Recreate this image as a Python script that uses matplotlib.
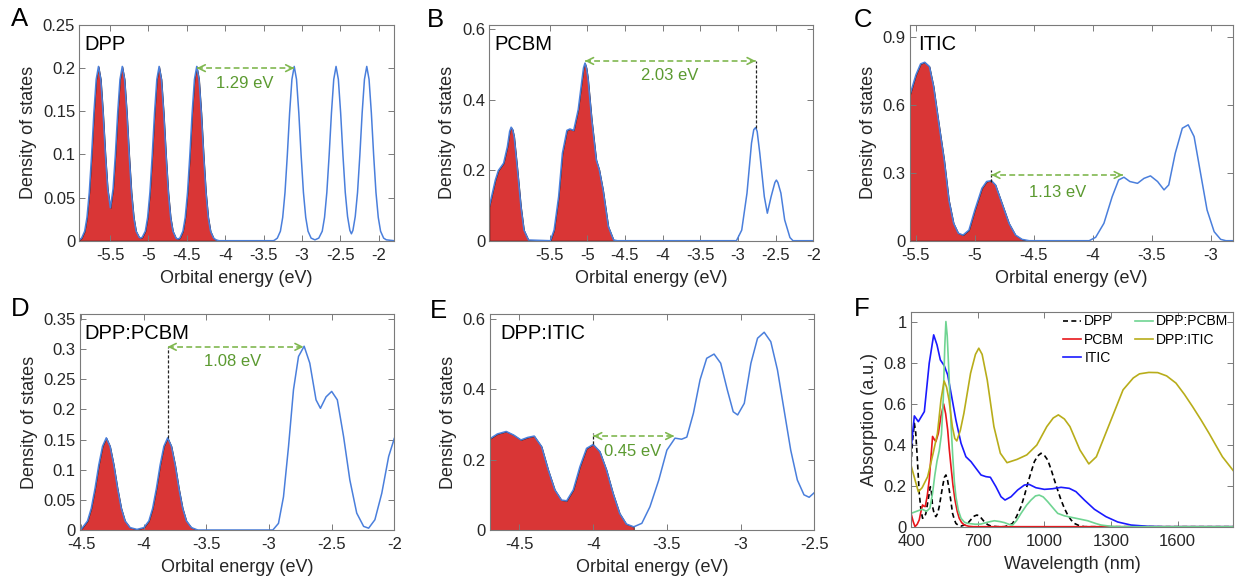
import numpy as np
import matplotlib
matplotlib.use('Agg')
import matplotlib.pyplot as plt
from matplotlib.ticker import FuncFormatter

plt.rcParams['font.family'] = ['Liberation Sans', 'DejaVu Sans']
plt.rcParams['axes.unicode_minus'] = False

# ---- DOS curves: (energy eV, density) ----
dpp_dos = [(-5.90, 0.001), (-5.87, 0.003), (-5.83, 0.011), (-5.80, 0.027), (-5.77, 0.056), (-5.74, 0.099),
           (-5.71, 0.148), (-5.68, 0.187), (-5.65, 0.202), (-5.62, 0.187), (-5.59, 0.148), (-5.56, 0.100),
           (-5.53, 0.060), (-5.495, 0.038), (-5.46, 0.060), (-5.43, 0.100), (-5.40, 0.148), (-5.37, 0.187),
           (-5.34, 0.202), (-5.31, 0.187), (-5.28, 0.148), (-5.25, 0.099), (-5.22, 0.056), (-5.19, 0.027),
           (-5.16, 0.011), (-5.12, 0.004), (-5.10, 0.003), (-5.08, 0.004), (-5.04, 0.011), (-5.01, 0.027),
           (-4.98, 0.056), (-4.95, 0.099), (-4.92, 0.148), (-4.89, 0.187), (-4.86, 0.202), (-4.83, 0.187),
           (-4.80, 0.148), (-4.77, 0.099), (-4.74, 0.056), (-4.71, 0.027), (-4.68, 0.011), (-4.64, 0.003),
           (-4.615, 0.002), (-4.59, 0.003), (-4.55, 0.011), (-4.52, 0.027), (-4.49, 0.056), (-4.46, 0.099),
           (-4.43, 0.148), (-4.40, 0.187), (-4.37, 0.202), (-4.34, 0.187), (-4.31, 0.148), (-4.28, 0.099),
           (-4.25, 0.056), (-4.22, 0.027), (-4.19, 0.011), (-4.15, 0.003), (-4.12, 0.001), (-4.08, 0.000),
           (-3.37, 0.000), (-3.35, 0.001), (-3.32, 0.003), (-3.28, 0.011), (-3.25, 0.027), (-3.22, 0.056),
           (-3.19, 0.099), (-3.16, 0.148), (-3.13, 0.187), (-3.10, 0.202), (-3.07, 0.187), (-3.04, 0.148),
           (-3.01, 0.099), (-2.98, 0.056), (-2.95, 0.027), (-2.92, 0.011), (-2.88, 0.003), (-2.83, 0.001),
           (-2.78, 0.003), (-2.735, 0.011), (-2.705, 0.027), (-2.675, 0.056), (-2.645, 0.099), (-2.615, 0.148),
           (-2.585, 0.187), (-2.555, 0.202), (-2.525, 0.187), (-2.495, 0.148), (-2.465, 0.099), (-2.435, 0.056),
           (-2.405, 0.028), (-2.375, 0.012), (-2.355, 0.008), (-2.335, 0.012), (-2.305, 0.028), (-2.275, 0.056),
           (-2.245, 0.099), (-2.215, 0.148), (-2.185, 0.187), (-2.155, 0.202), (-2.125, 0.187), (-2.095, 0.148),
           (-2.065, 0.099), (-2.035, 0.056), (-2.005, 0.027), (-1.975, 0.011), (-1.935, 0.003), (-1.90, 0.001),
           (-1.80, 0.000)]

pcbm_dos = [(-6.30, 0.097), (-6.27, 0.125), (-6.22, 0.172), (-6.18, 0.199), (-6.11, 0.220), (-6.06, 0.267),
            (-6.03, 0.310), (-6.01, 0.322), (-5.99, 0.315), (-5.97, 0.295), (-5.93, 0.210), (-5.88, 0.097),
            (-5.84, 0.030), (-5.78, 0.002), (-5.49, 0.000), (-5.44, 0.030), (-5.38, 0.125), (-5.33, 0.248),
            (-5.27, 0.313), (-5.23, 0.317), (-5.18, 0.313), (-5.12, 0.372), (-5.07, 0.457), (-5.05, 0.490),
            (-5.03, 0.504), (-5.01, 0.490), (-4.99, 0.460), (-4.94, 0.343), (-4.88, 0.229), (-4.84, 0.201),
            (-4.79, 0.144), (-4.72, 0.040), (-4.65, 0.002), (-4.60, 0.000), (-3.02, 0.000), (-2.95, 0.030),
            (-2.88, 0.135), (-2.82, 0.277), (-2.79, 0.315), (-2.765, 0.321), (-2.745, 0.310), (-2.71, 0.248),
            (-2.65, 0.125), (-2.61, 0.078), (-2.56, 0.125), (-2.51, 0.165), (-2.49, 0.172), (-2.47, 0.165),
            (-2.43, 0.135), (-2.38, 0.059), (-2.31, 0.009), (-2.27, 0.000), (-2.00, 0.000)]

itic_dos = [(-5.555, 0.638), (-5.50, 0.734), (-5.46, 0.783), (-5.425, 0.790), (-5.385, 0.771), (-5.35, 0.683),
            (-5.31, 0.535), (-5.26, 0.358), (-5.22, 0.180), (-5.18, 0.077), (-5.14, 0.033), (-5.10, 0.025),
            (-5.05, 0.047), (-5.00, 0.136), (-4.94, 0.232), (-4.90, 0.262), (-4.86, 0.266), (-4.825, 0.247),
            (-4.77, 0.166), (-4.71, 0.077), (-4.655, 0.025), (-4.60, 0.006), (-4.54, 0.000), (-4.03, 0.000),
            (-3.975, 0.015), (-3.905, 0.077), (-3.835, 0.195), (-3.78, 0.269), (-3.735, 0.281), (-3.685, 0.262),
            (-3.62, 0.254), (-3.565, 0.276), (-3.51, 0.287), (-3.45, 0.262), (-3.395, 0.225), (-3.355, 0.247),
            (-3.30, 0.387), (-3.24, 0.498), (-3.19, 0.513), (-3.14, 0.461), (-3.085, 0.298), (-3.03, 0.136),
            (-2.97, 0.040), (-2.915, 0.006), (-2.87, 0.000), (-2.80, 0.000)]

dpp_pcbm_dos = [(-4.51, 0.000), (-4.49, 0.004), (-4.45, 0.015), (-4.42, 0.036), (-4.39, 0.069), (-4.36, 0.108),
                (-4.33, 0.139), (-4.30, 0.153), (-4.27, 0.139), (-4.24, 0.108), (-4.21, 0.069), (-4.18, 0.036),
                (-4.15, 0.015), (-4.11, 0.004), (-4.055, 0.001), (-4.00, 0.004), (-3.96, 0.015), (-3.93, 0.036),
                (-3.90, 0.069), (-3.87, 0.108), (-3.84, 0.139), (-3.81, 0.153), (-3.78, 0.139), (-3.75, 0.108),
                (-3.72, 0.069), (-3.69, 0.036), (-3.66, 0.015), (-3.62, 0.004), (-3.57, 0.000), (-2.97, 0.000),
                (-2.925, 0.011), (-2.885, 0.055), (-2.845, 0.138), (-2.805, 0.233), (-2.765, 0.288), (-2.72, 0.305),
                (-2.675, 0.277), (-2.625, 0.216), (-2.59, 0.202), (-2.545, 0.221), (-2.50, 0.230), (-2.455, 0.216),
                (-2.405, 0.155), (-2.355, 0.083), (-2.30, 0.028), (-2.245, 0.006), (-2.205, 0.003), (-2.155, 0.017),
                (-2.10, 0.061), (-2.045, 0.122), (-2.00, 0.152)]

dpp_itic_dos = [(-4.705, 0.258), (-4.65, 0.273), (-4.59, 0.280), (-4.54, 0.270), (-4.49, 0.256), (-4.445, 0.263),
                (-4.40, 0.267), (-4.35, 0.237), (-4.305, 0.171), (-4.26, 0.114), (-4.215, 0.085), (-4.18, 0.083),
                (-4.135, 0.114), (-4.09, 0.180), (-4.045, 0.232), (-4.00, 0.243), (-3.955, 0.223), (-3.91, 0.171),
                (-3.865, 0.104), (-3.82, 0.047), (-3.775, 0.017), (-3.725, 0.009), (-3.67, 0.019), (-3.615, 0.066),
                (-3.555, 0.142), (-3.50, 0.227), (-3.445, 0.261), (-3.40, 0.258), (-3.365, 0.264), (-3.32, 0.332),
                (-3.275, 0.427), (-3.23, 0.488), (-3.18, 0.500), (-3.135, 0.474), (-3.09, 0.398), (-3.05, 0.336),
                (-3.02, 0.327), (-2.975, 0.360), (-2.93, 0.474), (-2.885, 0.545), (-2.84, 0.562), (-2.795, 0.535),
                (-2.75, 0.455), (-2.705, 0.341), (-2.66, 0.227), (-2.615, 0.142), (-2.57, 0.100), (-2.535, 0.093),
                (-2.495, 0.108)]

# ---- absorption spectra (wavelength nm, absorption) ----
abs_dpp = [(400, 0.30), (407, 0.42), (415, 0.504), (421, 0.46), (427, 0.358), (437, 0.163), (445, 0.08),
           (452, 0.041), (460, 0.045), (467, 0.065), (477, 0.13), (487, 0.195), (492, 0.17), (497, 0.098),
           (505, 0.06), (512, 0.049), (520, 0.065), (527, 0.098), (535, 0.15), (542, 0.195), (550, 0.24),
           (557, 0.252), (564, 0.23), (572, 0.179), (580, 0.12), (587, 0.065), (595, 0.035), (602, 0.016),
           (615, 0.005), (625, 0.003), (640, 0.008), (655, 0.016), (670, 0.035), (685, 0.052), (697, 0.057),
           (710, 0.05), (730, 0.024), (745, 0.01), (760, 0.003), (790, 0.0), (820, 0.0), (840, 0.006),
           (857, 0.016), (875, 0.05), (895, 0.098), (910, 0.15), (925, 0.211), (940, 0.265), (955, 0.317),
           (970, 0.345), (985, 0.358), (1000, 0.348), (1015, 0.325), (1030, 0.28), (1045, 0.228), (1060, 0.178),
           (1075, 0.13), (1090, 0.09), (1105, 0.057), (1120, 0.033), (1135, 0.016), (1155, 0.006), (1180, 0.0),
           (1850, 0.0)]

abs_pcbm = [(400, 0.065), (410, 0.025), (418, 0.0), (428, 0.012), (437, 0.033), (445, 0.075), (452, 0.106),
            (458, 0.10), (464, 0.098), (473, 0.15), (482, 0.228), (490, 0.34), (497, 0.44), (505, 0.425),
            (512, 0.415), (523, 0.455), (535, 0.54), (547, 0.598), (556, 0.55), (565, 0.472), (572, 0.38),
            (580, 0.293), (589, 0.20), (598, 0.13), (608, 0.075), (617, 0.041), (628, 0.02), (640, 0.008),
            (660, 0.002), (680, 0.0), (1850, 0.0)]

abs_itic = [(400, 0.374), (415, 0.54), (433, 0.512), (460, 0.561), (482, 0.797), (502, 0.935), (517, 0.886),
            (532, 0.813), (550, 0.784), (565, 0.74), (583, 0.634), (602, 0.52), (625, 0.407), (647, 0.341),
            (670, 0.317), (692, 0.285), (715, 0.252), (737, 0.244), (757, 0.241), (782, 0.195), (805, 0.146),
            (823, 0.13), (850, 0.146), (880, 0.179), (910, 0.203), (932, 0.206), (962, 0.19), (1000, 0.182),
            (1037, 0.185), (1075, 0.192), (1112, 0.187), (1142, 0.171), (1180, 0.13), (1225, 0.085),
            (1277, 0.049), (1330, 0.023), (1390, 0.008), (1465, 0.002), (1540, 0.0), (1850, 0.0)]

abs_dpp_pcbm = [(400, 0.065), (425, 0.075), (450, 0.085), (470, 0.075), (485, 0.09), (497, 0.163), (507, 0.25),
                (517, 0.32), (527, 0.37), (537, 0.45), (545, 0.62), (552, 0.88), (557, 1.0), (563, 0.93),
                (572, 0.715), (580, 0.50), (587, 0.358), (595, 0.22), (602, 0.146), (613, 0.08), (625, 0.041),
                (640, 0.022), (655, 0.016), (690, 0.012), (715, 0.013), (745, 0.022), (775, 0.029), (800, 0.025),
                (820, 0.02), (845, 0.01), (857, 0.008), (875, 0.03), (895, 0.065), (920, 0.105), (940, 0.13),
                (960, 0.15), (977, 0.154), (995, 0.145), (1015, 0.122), (1040, 0.09), (1060, 0.065),
                (1090, 0.053), (1120, 0.046), (1160, 0.037), (1195, 0.029), (1230, 0.016), (1255, 0.008),
                (1300, 0.002), (1330, 0.0), (1850, 0.0)]

abs_dpp_itic = [(400, 0.30), (433, 0.17), (450, 0.19), (475, 0.244), (500, 0.36), (519, 0.455), (535, 0.62),
                (549, 0.71), (560, 0.68), (571, 0.618), (586, 0.488), (597, 0.43), (606, 0.418), (622, 0.47),
                (638, 0.553), (668, 0.748), (690, 0.84), (705, 0.87), (720, 0.84), (743, 0.715), (773, 0.488),
                (802, 0.358), (832, 0.312), (877, 0.328), (921, 0.35), (966, 0.398), (1011, 0.488), (1040, 0.53),
                (1063, 0.545), (1090, 0.525), (1115, 0.488), (1160, 0.374), (1200, 0.306), (1234, 0.341),
                (1294, 0.504), (1354, 0.667), (1400, 0.725), (1428, 0.745), (1470, 0.752), (1510, 0.751),
                (1550, 0.735), (1592, 0.70), (1630, 0.645), (1667, 0.585), (1705, 0.52), (1741, 0.455),
                (1775, 0.39), (1801, 0.341), (1850, 0.273)]

# colours
red_fill = '#d93636'
dos_blue = '#4a7fdc'
arrow_green = '#80b850'
text_green = '#5b9a30'
axis_grey = '#7a7a7a'
label_c = '#262626'

W, H = 1238, 582
fig = plt.figure(figsize=(W / 100, H / 100), dpi=100)


def add_panel(l, t, r, b):
    return fig.add_axes([l / W, 1 - b / H, (r - l) / W, (b - t) / H])


def style(ax):
    for s in ax.spines.values():
        s.set_color(axis_grey)
        s.set_linewidth(0.8)
    ax.tick_params(direction='in', top=True, right=True, length=4, width=0.7,
                   color=axis_grey, labelcolor=label_c, labelsize=12)
    ax.tick_params(axis='x', pad=5)
    ax.tick_params(axis='y', pad=3)
    fmt = FuncFormatter(lambda v, p: f'{v:g}')
    ax.xaxis.set_major_formatter(fmt)
    ax.yaxis.set_major_formatter(fmt)


def dos_panel(ax, pts, homo_edge, xlim, ylim, xticks, yticks, name, tx=0.015):
    e, d = np.array(pts).T
    ax.fill_between(e, 0, d, where=e <= homo_edge, facecolor=red_fill,
                    edgecolor='#2a1010', linewidth=0.6)
    ax.plot(e, d, color=dos_blue, lw=1.1)
    ax.set_xlim(*xlim)
    ax.set_ylim(*ylim)
    ax.set_xticks(xticks)
    ax.set_yticks(yticks)
    ax.set_xlabel('Orbital energy (eV)', fontsize=13, color=label_c, labelpad=5)
    ax.set_ylabel('Density of states', fontsize=13, color=label_c, labelpad=4)
    ax.text(tx, 0.955, name, transform=ax.transAxes, ha='left', va='top', fontsize=14.5)
    style(ax)


def gap_arrow(ax, x1, x2, y, label, tx, ty):
    ax.plot([x1, x2], [y, y], color=arrow_green, ls=(0, (3.5, 2)), lw=1.2)
    for xa, xb in ((x1, x2), (x2, x1)):
        ax.annotate('', xy=(xa, y), xytext=(xa + (xb - xa) * 0.03, y),
                    arrowprops=dict(arrowstyle='->', color=arrow_green, lw=1.2,
                                    shrinkA=0, shrinkB=0, mutation_scale=12))
    ax.text(tx, ty, label, color=text_green, ha='center', va='center', fontsize=12)


def marker_line(ax, x, y1, y2):
    ax.plot([x, x], [y1, y2], color='#222222', ls=(0, (2.5, 1.5)), lw=0.9)


# A
axA = add_panel(79.3, 25, 394, 240.7)
dos_panel(axA, dpp_dos, -4.08, (-5.9, -1.8), (0, 0.25), np.arange(-5.5, -1.9, 0.5),
          np.arange(0, 0.26, 0.05), 'DPP')
gap_arrow(axA, -4.37, -3.10, 0.2, '1.29 eV', -3.75, 0.182)

# B
axB = add_panel(489.3, 25, 813.3, 240.7)
dos_panel(axB, pcbm_dos, -4.60, (-6.3, -2.0), (0, 0.612), np.arange(-5.5, -1.9, 0.5),
          [0, 0.2, 0.4, 0.6], 'PCBM')
marker_line(axB, -2.765, 0.321, 0.51)
gap_arrow(axB, -5.03, -2.765, 0.51, '2.03 eV', -3.90, 0.47)

# C
axC = add_panel(910, 25, 1233, 240.7)
dos_panel(axC, itic_dos, -4.54, (-5.55, -2.81), (0, 0.955), np.arange(-5.5, -2.9, 0.5),
          [0, 0.3, 0.6, 0.9], 'ITIC', tx=0.025)
marker_line(axC, -4.86, 0.262, 0.313)
gap_arrow(axC, -4.86, -3.745, 0.291, '1.13 eV', -4.30, 0.2125)

# D
axD = add_panel(80, 314.3, 394.3, 530)
dos_panel(axD, dpp_pcbm_dos, -3.57, (-4.51, -2.0), (0, 0.358), np.arange(-4.5, -1.9, 0.5),
          np.arange(0, 0.36, 0.05), 'DPP:PCBM')
marker_line(axD, -3.81, 0.153, 0.304)
gap_arrow(axD, -3.81, -2.725, 0.304, '1.08 eV', -3.29, 0.279)

# E
axE = add_panel(490, 314.3, 814.3, 530)
dos_panel(axE, dpp_itic_dos, -3.725, (-4.7, -2.5), (0, 0.613), np.arange(-4.5, -2.4, 0.5),
          [0, 0.2, 0.4, 0.6], 'DPP:ITIC', tx=0.033)
marker_line(axE, -4.0, 0.243, 0.277)
gap_arrow(axE, -4.0, -3.45, 0.267, '0.45 eV', -3.73, 0.223)

# F
axF = add_panel(911, 312.3, 1233.3, 526.7)
spectra = [(abs_dpp, 'DPP', 'k', (0, (3, 2))),
           (abs_pcbm, 'PCBM', '#e8161b', '-'),
           (abs_itic, 'ITIC', '#1a1aff', '-'),
           (abs_dpp_pcbm, 'DPP:PCBM', '#6fd492', '-'),
           (abs_dpp_itic, 'DPP:ITIC', '#b8ad1a', '-')]
for pts, lab, col, ls in spectra:
    w, a = np.array(pts).T
    axF.plot(w, a, color=col, ls=ls, lw=1.2, label=lab)
axF.set_xlim(400, 1850)
axF.set_ylim(0, 1.045)
axF.set_xticks([400, 700, 1000, 1300, 1600])
axF.set_yticks(np.arange(0, 1.01, 0.2))
axF.set_xlabel('Wavelength (nm)', fontsize=13, color=label_c, labelpad=5)
axF.set_ylabel('Absorption (a.u.)', fontsize=13, color=label_c, labelpad=4)
style(axF)
axF.legend(ncol=2, frameon=False, loc='upper right', bbox_to_anchor=(0.985, 0.99),
           fontsize=10, handlelength=1.3, handletextpad=0.2, columnspacing=0.8,
           labelspacing=0.3, borderpad=0, borderaxespad=0)

# panel letters
for lab, x, y in [('A', 11, 7), ('B', 427, 8), ('C', 854, 8),
                  ('D', 11, 297), ('E', 430, 299), ('F', 854, 297)]:
    fig.text(x / W, 1 - y / H, lab, fontsize=18.5, ha='left', va='top')

fig.savefig('out.png', dpi=100)
